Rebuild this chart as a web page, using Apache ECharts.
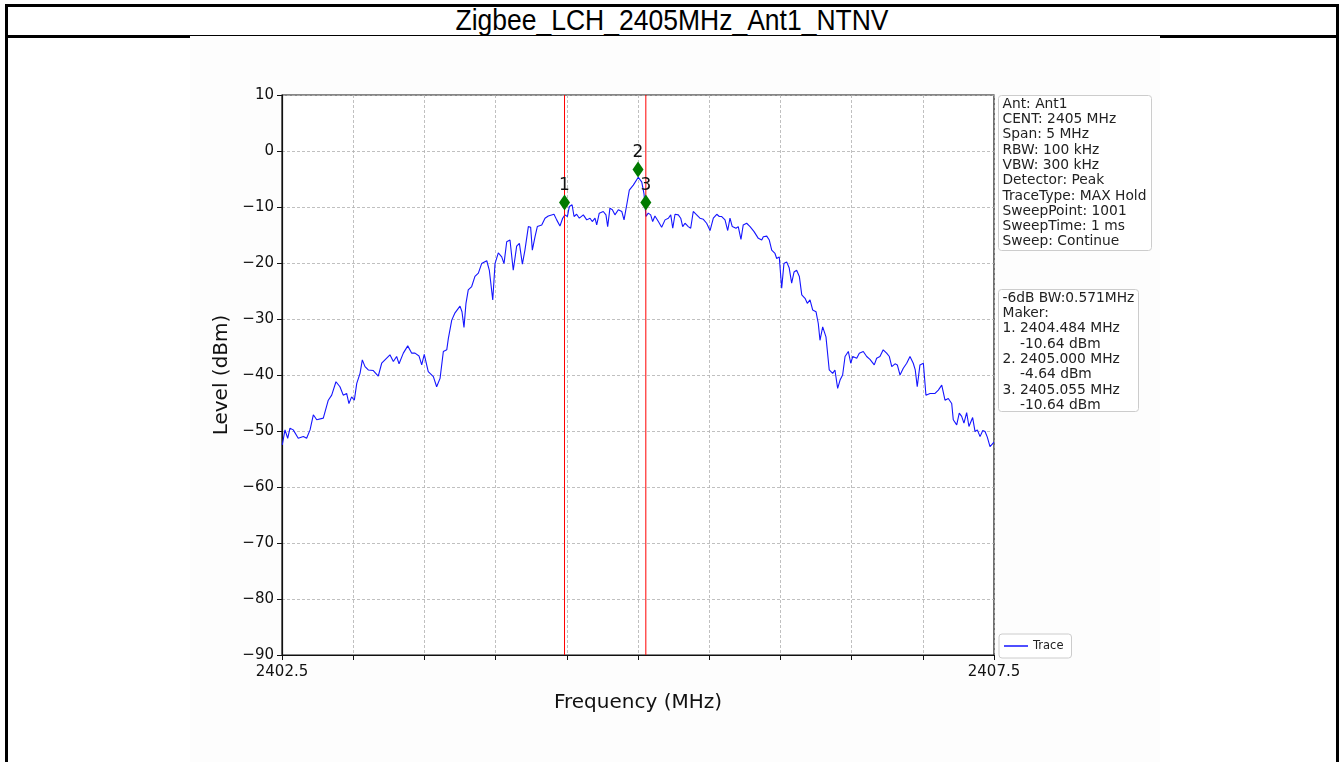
<!DOCTYPE html>
<html>
<head>
<meta charset="utf-8">
<script src="https://cdn.jsdelivr.net/npm/echarts@6/dist/echarts.min.js"></script>
<style>
html,body{margin:0;padding:0;background:#fff;}
#frame{position:absolute;left:5px;top:4px;width:1334px;height:770px;border:3px solid #000;border-bottom:none;box-sizing:border-box;}
#title{position:absolute;left:0;top:5px;width:1344px;text-align:center;font-family:"Liberation Sans",Arial,sans-serif;font-size:26.5px;color:#000;transform:scaleY(1.12);}
#sep{position:absolute;left:5px;top:35px;width:1334px;height:3px;background:#000;}
#img{position:absolute;left:190px;top:36px;width:970px;height:726px;background:#fdfdfd;}
#main{position:absolute;left:0;top:0;width:1344px;height:762px;}
</style>
</head>
<body>
<div id="frame"></div>
<div id="title">Zigbee_LCH_2405MHz_Ant1_NTNV</div>
<div id="sep"></div>
<div id="img"></div>
<div id="main"></div>
<script>
// trace (MHz, dBm)
var freqs = [
    2402.502,2402.521,2402.540,2402.556,2402.579,2402.614,2402.650,2402.673,2402.697,2402.720,
    2402.744,2402.790,2402.825,2402.849,2402.879,2402.907,2402.930,2402.954,2402.970,2402.989,
    2403.008,2403.025,2403.048,2403.064,2403.083,2403.106,2403.141,2403.176,2403.200,2403.223,
    2403.258,2403.282,2403.305,2403.322,2403.352,2403.383,2403.411,2403.434,2403.462,2403.481,
    2403.499,2403.527,2403.563,2403.586,2403.610,2403.633,2403.657,2403.668,2403.692,2403.715,
    2403.750,2403.764,2403.778,2403.792,2403.808,2403.832,2403.855,2403.879,2403.902,2403.938,
    2403.956,2403.980,2403.996,2404.019,2404.043,2404.059,2404.078,2404.101,2404.124,2404.148,
    2404.167,2404.188,2404.206,2404.230,2404.246,2404.258,2404.277,2404.293,2404.324,2404.347,
    2404.370,2404.410,2404.429,2404.452,2404.471,2404.487,2404.504,2404.518,2404.537,2404.551,
    2404.569,2404.588,2404.616,2404.640,2404.663,2404.679,2404.698,2404.710,2404.728,2404.756,
    2404.775,2404.787,2404.803,2404.820,2404.838,2404.862,2404.886,2404.902,2404.921,2404.939,
    2404.967,2405.002,2405.026,2405.042,2405.056,2405.072,2405.089,2405.103,2405.119,2405.143,
    2405.166,2405.190,2405.213,2405.230,2405.244,2405.260,2405.283,2405.300,2405.314,2405.330,
    2405.353,2405.370,2405.388,2405.412,2405.435,2405.459,2405.482,2405.506,2405.529,2405.553,
    2405.571,2405.588,2405.611,2405.630,2405.646,2405.662,2405.688,2405.704,2405.723,2405.739,
    2405.763,2405.787,2405.815,2405.845,2405.869,2405.880,2405.904,2405.922,2405.939,2405.962,
    2405.974,2405.992,2406.009,2406.025,2406.044,2406.062,2406.079,2406.096,2406.114,2406.133,
    2406.150,2406.173,2406.189,2406.208,2406.227,2406.250,2406.266,2406.278,2406.297,2406.320,
    2406.343,2406.367,2406.383,2406.402,2406.419,2406.437,2406.454,2406.477,2406.494,2406.508,
    2406.536,2406.554,2406.582,2406.606,2406.629,2406.659,2406.676,2406.699,2406.722,2406.746,
    2406.765,2406.782,2406.805,2406.821,2406.840,2406.863,2406.887,2406.910,2406.933,2406.947,
    2406.961,2406.980,2407.004,2407.022,2407.051,2407.086,2407.109,2407.133,2407.156,2407.179,
    2407.203,2407.214,2407.238,2407.256,2407.273,2407.289,2407.308,2407.324,2407.350,2407.367,
    2407.383,2407.402,2407.421,2407.437,2407.453,2407.472,2407.486,2407.500
];
var levels = [
    -52.5,-49.8,-51.3,-49.5,-49.8,-51.3,-51.0,-51.3,-49.8,-47.1,
    -48.0,-47.7,-44.5,-43.6,-41.2,-42.1,-43.6,-43.3,-45.1,-43.9,
    -44.5,-41.5,-39.7,-37.3,-38.5,-39.1,-39.2,-40.2,-37.9,-37.3,
    -36.4,-37.6,-36.7,-38.0,-36.1,-34.8,-36.1,-36.1,-36.6,-38.2,
    -36.3,-39.4,-40.3,-42.1,-40.6,-35.8,-35.5,-33.5,-30.2,-28.9,
    -27.7,-28.7,-31.5,-27.2,-24.8,-24.2,-22.4,-21.8,-20.1,-19.6,
    -21.3,-26.6,-20.1,-18.2,-18.9,-20.1,-16.2,-15.9,-21.3,-17.0,
    -16.5,-20.2,-17.7,-13.5,-13.6,-17.7,-15.3,-13.5,-13.2,-12.0,
    -11.6,-11.3,-12.3,-13.4,-12.0,-11.4,-11.7,-9.9,-9.6,-11.7,
    -11.3,-12.0,-11.4,-12.3,-12.0,-12.6,-12.0,-13.2,-11.1,-10.8,
    -11.4,-13.5,-10.2,-10.5,-11.4,-10.5,-10.8,-12.3,-9.6,-7.0,
    -6.1,-4.7,-5.5,-7.6,-11.7,-11.1,-11.4,-12.6,-11.6,-12.6,
    -13.6,-12.3,-12.0,-11.4,-13.8,-11.3,-11.4,-12.0,-13.5,-12.9,
    -13.5,-13.8,-10.8,-11.4,-12.0,-12.2,-12.9,-14.2,-12.0,-11.3,
    -11.7,-11.7,-12.3,-14.2,-12.0,-13.5,-13.8,-13.5,-15.8,-13.2,
    -12.9,-13.5,-14.4,-15.6,-15.9,-15.3,-15.2,-15.9,-17.7,-18.3,
    -19.2,-18.9,-24.5,-20.1,-19.8,-20.9,-23.6,-21.6,-21.3,-22.4,
    -25.7,-26.3,-27.2,-26.6,-28.4,-28.7,-30.8,-33.8,-31.4,-33.2,
    -39.1,-39.7,-39.1,-42.4,-40.9,-40.0,-36.7,-35.8,-37.9,-36.7,
    -37.0,-36.1,-35.8,-36.7,-37.2,-38.2,-37.0,-36.7,-35.5,-36.1,
    -36.7,-38.5,-38.0,-38.2,-40.0,-38.8,-37.9,-36.7,-37.9,-39.1,
    -42.1,-38.2,-37.9,-43.6,-43.3,-43.3,-42.7,-41.8,-44.5,-44.2,
    -45.1,-48.0,-48.9,-46.8,-47.4,-48.6,-46.7,-49.2,-47.6,-50.1,
    -49.8,-51.0,-49.9,-50.1,-51.1,-52.8,-53.1,-52.0
];

// markers as drawn
var markerNames = ['1', '2', '3'];
var markerFreqs = [2404.484, 2405.000, 2405.055];
var markerLevels = [-9.2, -3.3, -9.2];
var bwLines = [2404.484, 2405.055];
var yRange = [-90, 10];

var infoLines = ['Ant: Ant1', 'CENT: 2405 MHz', 'Span: 5 MHz', 'RBW: 100 kHz', 'VBW: 300 kHz',
    'Detector: Peak', 'TraceType: MAX Hold', 'SweepPoint: 1001', 'SweepTime: 1 ms', 'Sweep: Continue'];
var makerLines = ['-6dB BW:0.571MHz', 'Maker:', '1. 2404.484 MHz', '    -10.64 dBm',
    '2. 2405.000 MHz', '    -4.64 dBm', '3. 2405.055 MHz', '    -10.64 dBm'];

var FONT = '"DejaVu Sans", sans-serif';
var traceData = freqs.map(function(f, i){ return [f, levels[i]]; });
var markerData = markerFreqs.map(function(f, i){ return {name: markerNames[i], value: [f, markerLevels[i]]}; });

function minus(v){ return String(v).replace('-', '\u2212'); }

function textBox(x, y, w, h, lines){
    return {
        type: 'group', left: x, top: y,
        children: [
            {type: 'rect', shape: {x: 0, y: 0, width: w, height: h, r: 3},
             style: {fill: '#fff', stroke: '#cccccc', lineWidth: 1}},
            {type: 'text', x: 4, y: 1,
             style: {text: lines.join('\n'), font: '13.8px ' + FONT, lineHeight: 15.3, fill: '#222'}}
        ]
    };
}

// red -6dB lines, one line series each
var bwSeries = bwLines.map(function(f, i){
    return {
        name: 'bw' + i, type: 'line', data: [[f, yRange[0]], [f, yRange[1]]],
        showSymbol: false, symbol: 'none', silent: true,
        lineStyle: {color: '#ff0000', width: 1},
        z: 4
    };
});

var chart = echarts.init(document.getElementById('main'));
chart.setOption({
    backgroundColor: 'transparent',
    animation: false,
    grid: {left: 282, top: 95, width: 712, height: 560, show: true, borderColor: '#111', borderWidth: 1.2, backgroundColor: '#fff'},
    legend: {
        left: 999, top: 634,
        data: [{name: 'Trace', icon: 'rect'}],
        itemWidth: 24, itemHeight: 1.5,
        backgroundColor: '#fff', borderColor: '#cccccc', borderWidth: 1, borderRadius: 3,
        padding: [6, 8, 6, 5],
        textStyle: {fontFamily: FONT, fontSize: 11.5, color: '#222'}
    },
    xAxis: {
        type: 'value', min: 2402.5, max: 2407.5, interval: 0.5,
        name: 'Frequency (MHz)', nameLocation: 'middle', nameGap: 38,
        nameTextStyle: {fontFamily: FONT, fontSize: 20, color: '#111'},
        axisLine: {onZero: false, lineStyle: {color: '#111', width: 1.2}},
        axisTick: {length: 5, lineStyle: {color: '#111'}},
        axisLabel: {
            fontFamily: FONT, fontSize: 15, color: '#111', margin: 10,
            formatter: function(v){ return (Math.abs(v - 2402.5) < 1e-6 || Math.abs(v - 2407.5) < 1e-6) ? v.toFixed(1) : ''; }
        },
        splitLine: {show: true, lineStyle: {type: [3, 2], color: '#b0b0b0', width: 0.8}}
    },
    yAxis: {
        type: 'value', min: yRange[0], max: yRange[1], interval: 10,
        name: 'Level (dBm)', nameLocation: 'middle', nameGap: 50, nameRotate: 90,
        nameTextStyle: {fontFamily: FONT, fontSize: 20, color: '#111'},
        axisLine: {show: true, onZero: false, lineStyle: {color: '#111', width: 1.2}},
        axisTick: {show: true, length: 5, lineStyle: {color: '#111'}},
        axisLabel: {fontFamily: FONT, fontSize: 15, color: '#111', margin: 8, formatter: minus},
        splitLine: {show: true, lineStyle: {type: [3, 2], color: '#b0b0b0', width: 0.8}}
    },
    graphic: [
        textBox(998, 95, 153, 155, infoLines),
        textBox(998, 289, 140, 122, makerLines)
    ],
    series: [
        {
            name: 'Trace', type: 'line', data: traceData,
            showSymbol: false, symbol: 'none',
            lineStyle: {color: '#1515ff', width: 1.1},
            itemStyle: {color: '#1515ff'},
            z: 3
        }
    ].concat(bwSeries, [
        {
            name: 'marker', type: 'scatter', data: markerData,
            symbol: 'diamond', symbolSize: [11, 16],
            itemStyle: {color: '#007a00', opacity: 1},
            label: {show: true, position: 'top', distance: 0, formatter: '{b}',
                fontFamily: FONT, fontSize: 17, color: '#111'},
            z: 5
        }
    ])
});
</script>
</body>
</html>
